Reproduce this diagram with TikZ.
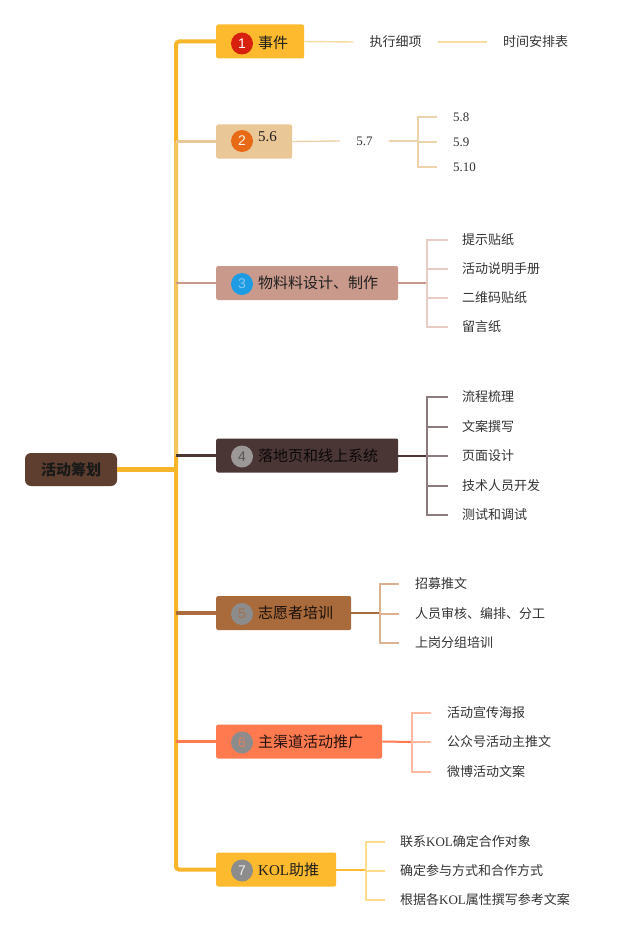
\documentclass[tikz,border=0pt]{standalone}
\usepackage{fontspec}
\setmainfont{Noto Sans CJK SC}
\newfontfamily\lat{Liberation Serif}
\newfontfamily\numf{Liberation Sans}
\definecolor{bc1}{HTML}{FDBA2E}
\definecolor{bc2}{HTML}{EAC797}
\definecolor{bc3}{HTML}{C99A8C}
\definecolor{bc4}{HTML}{4B3636}
\definecolor{bc5}{HTML}{A96A3C}
\definecolor{bc6}{HTML}{FF7B4F}
\definecolor{rootc}{HTML}{5D3E2F}
\definecolor{trunkc}{HTML}{F7B52C}
\definecolor{trunkl}{HTML}{F3C35E}
\definecolor{lc1}{HTML}{F7DCA0}
\definecolor{lc2}{HTML}{EDD3AB}
\definecolor{lc3}{HTML}{E8CCC4}
\definecolor{lc4}{HTML}{8A7C7C}
\definecolor{lc5}{HTML}{DDB08F}
\definecolor{lc6}{HTML}{FFB9A0}
\definecolor{lc7}{HTML}{FFDB8C}
\definecolor{leafc}{HTML}{333333}
\definecolor{ncr}{HTML}{D8200F}
\definecolor{nco}{HTML}{E86A17}
\definecolor{ncb}{HTML}{1D9CE3}
\definecolor{ncg}{HTML}{9D9898}
\definecolor{ncd}{HTML}{8C8C8C}
\tikzset{
  bbox/.style={rounded corners=2pt, minimum height=34pt, anchor=west, inner sep=0pt},
  numc/.style={circle, minimum size=22pt, inner sep=0pt, font=\numf\fontsize{14}{14}\selectfont},
  blabel/.style={anchor=west, inner sep=0pt, font=\fontsize{15}{15}\selectfont, text=black!88},
  leaf/.style={anchor=west, inner sep=0pt, font=\fontsize{13}{13}\selectfont, text=leafc},
  midleaf/.style={inner ysep=0pt, inner xsep=16pt, font=\fontsize{13}{13}\selectfont, text=leafc},
  ln/.style={line width=1.4pt},
}
\begin{document}
\begin{tikzpicture}[x=1pt,y=-1pt]
\useasboundingbox[fill=white] (0,0) rectangle (640,939);

% root
\node[fill=rootc, rounded corners=6pt, minimum width=92pt, minimum height=33pt, inner sep=0pt,
      font=\bfseries\fontsize{15}{15}\selectfont, text=black!90] (root) at (71,469.5) {活动筹划};

% trunk coordinates
\coordinate (tk1) at (176,41.5);
\coordinate (tk2) at (176,141.5);
\coordinate (tk3) at (176,283);
\coordinate (tk4) at (176,455.5);
\coordinate (tkr) at (176,469.5);
\coordinate (tk5) at (176,613);
\coordinate (tk6) at (176,741.5);
\coordinate (tk7) at (176,869.5);

% boxes
\node[bbox, fill=bc1, minimum width=88pt]  (b1) at (216,41.5) {};
\node[bbox, fill=bc2, minimum width=76pt]  (b2) at (216,141.5) {};
\node[bbox, fill=bc3, minimum width=182pt] (b3) at (216,283) {};
\node[bbox, fill=bc4, minimum width=182pt] (b4) at (216,455.5) {};
\node[bbox, fill=bc5, minimum width=135pt] (b5) at (216,613) {};
\node[bbox, fill=bc6, minimum width=166pt] (b6) at (216,741.5) {};
\node[bbox, fill=bc1, minimum width=120pt] (b7) at (216,869.5) {};

% trunk
\draw[trunkc, line width=4pt, rounded corners=3pt] (b1.west) -- (tk1) -- (tk7) -- (b7.west);
\draw[trunkl, line width=4pt] (tk2) -- (tk4);
\draw[trunkc, line width=5pt] (root.east) -- (tkr);
\draw[bc2, line width=3pt] (tk2) -- (b2.west);
\draw[bc3, line width=2pt] (tk3) -- (b3.west);
\draw[bc4, line width=2.5pt] (tk4) -- (b4.west);
\draw[bc5, line width=4pt] (tk5) -- (b5.west);
\draw[bc6, line width=3pt] (tk6) -- (b6.west);

% circles and labels
\node[numc, fill=ncr, text=white] (n1) at (242,43.5) {1};
\node[blabel] (t1) at (258,43) {事件};
\node[numc, fill=nco, text=white!90!orange] (n2) at (242,141) {2};
\node[blabel, font=\lat\fontsize{15}{15}\selectfont] (t2) at (258,137) {5.6};
\node[numc, fill=ncb, text=ncb!55!white] (n3) at (242,284) {3};
\node[blabel] (t3) at (258,283) {物料料设计、制作};
\node[numc, fill=ncg, text=ncg!55!black] (n4) at (242,456.5) {4};
\node[blabel, text=black!85!bc4] (t4) at (258,455.5) {落地页和线上系统};
\node[numc, fill=ncd, text=bc5!80!ncd] (n5) at (242,614) {5};
\node[blabel, text=black!85!bc5] (t5) at (258,613) {志愿者培训};
\node[numc, fill=ncd, text=bc6!70!ncd] (n6) at (242,742.5) {6};
\node[blabel, text=black!85!bc6] (t6) at (258,741.5) {主渠道活动推广};
\node[numc, fill=ncd, text=white!85!ncd] (n7) at (242,870.5) {7};
\node[blabel] (t7) at (258,869.5) {{\lat KOL}助推};

% branch 1
\node[midleaf] (e11) at (395.5,42) {执行细项};
\node[midleaf] (e12) at (535.5,42) {时间安排表};
\draw[lc1, ln] (b1.east) -- (e11.west);
\draw[lc1, ln] (e11.east) -- (e12.west);

% branch 2
\node[midleaf, font=\lat\fontsize{13}{13}\selectfont] (e21) at (364.5,141) {5.7};
\coordinate (k2) at (418,141);
\draw[lc2, ln] (b2.east) -- (e21.west);
\draw[lc2, ln] (e21.east) -- (k2);
\node[leaf, font=\lat\fontsize{13}{13}\selectfont] (c21) at (453,117) {5.8};
\node[leaf, font=\lat\fontsize{13}{13}\selectfont] (c22) at (453,142) {5.9};
\node[leaf, font=\lat\fontsize{13}{13}\selectfont] (c23) at (453,167) {5.10};
\foreach \c in {c21,c22,c23} \draw[lc2, ln] (k2) |- ([xshift=-16pt]\c.west);

% branch 3
\coordinate (k3) at (427,283);
\draw[bc3, line width=2pt] (b3.east) -- (k3);
\node[leaf] (c31) at (462,240) {提示贴纸};
\node[leaf] (c32) at (462,269) {活动说明手册};
\node[leaf] (c33) at (462,298) {二维码贴纸};
\node[leaf] (c34) at (462,327) {留言纸};
\foreach \c in {c31,c32,c33,c34} \draw[lc3, ln] (k3) |- ([xshift=-14pt]\c.west);

% branch 4
\coordinate (k4) at (427,455.5);
\draw[bc4, line width=2pt] (b4.east) -- (k4);
\node[leaf] (c41) at (462,397) {流程梳理};
\node[leaf] (c42) at (462,427) {文案撰写};
\node[leaf] (c43) at (462,456) {页面设计};
\node[leaf] (c44) at (462,486) {技术人员开发};
\node[leaf] (c45) at (462,515) {测试和调试};
\foreach \c in {c41,c42,c43,c44,c45} \draw[lc4, ln] (k4) |- ([xshift=-14pt]\c.west);

% branch 5
\coordinate (k5) at (380,613);
\draw[bc5, line width=2pt] (b5.east) -- (k5);
\node[leaf] (c51) at (415,584) {招募推文};
\node[leaf] (c52) at (415,614) {人员审核、编排、分工};
\node[leaf] (c53) at (415,643) {上岗分组培训};
\foreach \c in {c51,c52,c53} \draw[lc5, ln] (k5) |- ([xshift=-16pt]\c.west);

% branch 6
\coordinate (k6) at (412,742);
\draw[bc6, line width=2pt] (b6.east) -- (k6);
\node[leaf] (c61) at (447,713) {活动宣传海报};
\node[leaf] (c62) at (447,742) {公众号活动主推文};
\node[leaf] (c63) at (447,772) {微博活动文案};
\foreach \c in {c61,c62,c63} \draw[lc6, ln] (k6) |- ([xshift=-16pt]\c.west);

% branch 7
\coordinate (k7) at (366,869.5);
\draw[bc1, line width=2pt] (b7.east) -- (k7);
\node[leaf] (c71) at (400,842) {联系{\lat KOL}确定合作对象};
\node[leaf] (c72) at (400,871) {确定参与方式和合作方式};
\node[leaf] (c73) at (400,900) {根据各{\lat KOL}属性撰写参考文案};
\foreach \c in {c71,c72,c73} \draw[lc7, ln] (k7) |- ([xshift=-15pt]\c.west);
\end{tikzpicture}
\end{document}
